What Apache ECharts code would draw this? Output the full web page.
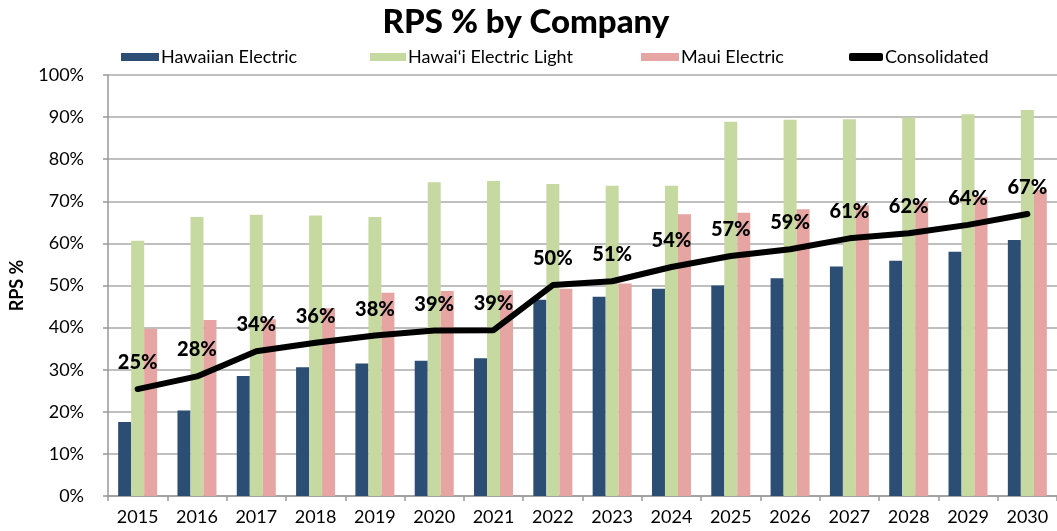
<!DOCTYPE html>
<html>
<head>
<meta charset="utf-8">
<script src="https://cdn.jsdelivr.net/npm/echarts@6/dist/echarts.min.js"></script>
<style>
  html, body { margin: 0; padding: 0; background: #fff; }
  #chart { width: 1057px; height: 531px; }
</style>
</head>
<body>
<div id="chart"></div>
<script>
// 年份
const years = ['2015', '2016', '2017', '2018', '2019', '2020', '2021', '2022',
  '2023', '2024', '2025', '2026', '2027', '2028', '2029', '2030']

// 各公司 RPS %
const hawaiianElectric = [17.6, 20.3, 28.5, 30.6, 31.5, 32.1, 32.7, 46.6, 47.3, 49.2, 50.0, 51.7, 54.5, 55.9, 58.0, 60.8]
const hawaiiElectricLight = [60.6, 66.3, 66.8, 66.6, 66.3, 74.5, 74.8, 74.1, 73.7, 73.7, 88.9, 89.4, 89.5, 89.9, 90.7, 91.7]
const mauiElectric = [39.7, 41.8, 42.0, 44.6, 48.3, 48.7, 48.9, 49.2, 50.5, 66.9, 67.3, 68.1, 69.0, 69.9, 71.1, 72.7]
const consolidated = [25.4, 28.4, 34.4, 36.4, 38.1, 39.3, 39.4, 50.1, 51.0, 54.4, 57.0, 58.6, 61.2, 62.4, 64.4, 67.0]

const font = 'Lato, "Open Sans", sans-serif'

// 图例：每项单独定位
const legendItem = (name, left, icon, width) => ({
  left,
  top: 48,
  padding: 0,
  itemWidth: width,
  itemHeight: 8,
  textStyle: {
    fontFamily: font,
    fontSize: 18,
    color: '#000',
    padding: [0, 0, 0, -3]
  },
  data: [{ name, icon }]
})

const chart = echarts.init(document.getElementById('chart'))

chart.setOption({
  animation: false,
  title: {
    text: 'RPS % by Company',
    left: 521,
    top: 1,
    textAlign: 'center',
    textStyle: {
      fontFamily: font,
      fontSize: 33,
      fontWeight: 900,
      color: '#000'
    }
  },
  legend: [
    legendItem('Hawaiian Electric', 121, 'rect', 38),
    legendItem('Hawai‘i Electric Light', 370, 'rect', 36),
    legendItem('Maui Electric', 641, 'rect', 38),
    legendItem('Consolidated', 849, 'roundRect', 34)
  ],
  grid: {
    left: 100,
    right: 0,
    top: 75,
    bottom: 35
  },
  xAxis: {
    type: 'category',
    data: years,
    // 坐标轴线条样式
    axisLine: {
      lineStyle: { color: '#999', width: 1.5 }
    },
    axisTick: {
      show: true,
      length: 5,
      lineStyle: { color: '#999', width: 1.5 }
    },
    axisLabel: {
      fontFamily: font,
      fontSize: 18,
      color: '#000',
      margin: 12
    }
  },
  yAxis: {
    type: 'value',
    min: 0,
    max: 100,
    interval: 10,
    name: 'RPS %',
    nameLocation: 'middle',
    nameGap: 82,
    nameTextStyle: {
      fontFamily: font,
      fontSize: 18,
      fontWeight: 'bold',
      color: '#000'
    },
    axisLine: {
      show: true,
      lineStyle: { color: '#999', width: 1.5 }
    },
    axisTick: {
      show: true,
      length: 5,
      lineStyle: { color: '#999', width: 1.5 }
    },
    axisLabel: {
      fontFamily: font,
      fontSize: 18,
      color: '#000',
      margin: 24,
      formatter: '{value}%'
    },
    // 分隔线
    splitLine: {
      lineStyle: { color: '#aaa', width: 1.5 }
    }
  },
  series: [
    {
      name: 'Hawaiian Electric',
      type: 'bar',
      barWidth: 13,
      barGap: '0%',
      itemStyle: { color: '#2c4d74' },
      data: hawaiianElectric
    },
    {
      name: 'Hawai‘i Electric Light',
      type: 'bar',
      barWidth: 13,
      barGap: '0%',
      itemStyle: { color: '#c6d9a0' },
      data: hawaiiElectricLight
    },
    {
      name: 'Maui Electric',
      type: 'bar',
      barWidth: 13,
      barGap: '0%',
      itemStyle: { color: '#e6a5a2' },
      data: mauiElectric
    },
    {
      name: 'Consolidated',
      type: 'line',
      symbol: 'circle',
      symbolSize: 1,
      itemStyle: { color: '#000' },
      lineStyle: { color: '#000', width: 6, cap: 'round', join: 'round' },
      label: {
        show: true,
        position: 'top',
        distance: 16,
        fontFamily: font,
        fontSize: 20,
        fontWeight: 900,
        color: '#000',
        formatter: (p) => Math.round(p.value) + '%'
      },
      data: consolidated
    }
  ]
})
</script>
</body>
</html>
